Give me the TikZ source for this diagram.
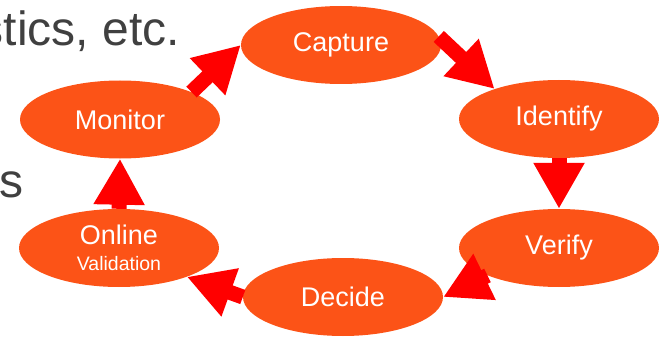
\documentclass[tikz,border=0pt]{standalone}
\usepackage{fontspec}
\setmainfont{Liberation Sans}
\usetikzlibrary{shapes.geometric,arrows.meta}
\definecolor{ovalfill}{HTML}{FC5317}
\definecolor{arrowred}{HTML}{FF0000}
\definecolor{slidegray}{HTML}{404040}
\tikzset{
  oval/.style={ellipse, fill=ovalfill, draw=none, minimum width=200pt, minimum height=78pt,
    inner sep=0pt, text=white, font=\fontsize{27}{30}\selectfont},
  blockarrow/.style={draw=arrowred, line width=15pt,
    -{Triangle[length=46pt,width=48pt]}},
  slidetext/.style={anchor=base east, inner sep=0pt, text=slidegray, font=\fontsize{48}{52}\selectfont}
}
\begin{document}
\begin{tikzpicture}[x=1pt,y=-1pt]
\useasboundingbox (0,0) rectangle (662,337);
\node[slidetext] (t1) at (180,46) {stics, etc.};
\node[slidetext] (t2) at (24,197) {s};
\node[oval] (capture) at (341,45) {Capture};
\node[oval] (identify) at (559,119) {Identify};
\node[oval] (verify) at (559,248) {Verify};
\node[oval] (decide) at (343,297) {Decide};
\node[oval, align=center] (online) at (119,248) {Online\\[-4pt]{\fontsize{19.5}{22}\selectfont Validation}};
\node[oval] (monitor) at (120,119.5) {Monitor};
\draw[blockarrow] (monitor.21) -- (capture.west);
\draw[blockarrow] (capture.5) -- (identify.155);
\draw[blockarrow] (identify.south) -- (verify.north);
\draw[blockarrow] (verify.201) -- (decide.east);
\draw[blockarrow] (decide.west) -- (online.-23);
\draw[blockarrow] (online.north) -- (monitor.south);
\end{tikzpicture}
\end{document}
